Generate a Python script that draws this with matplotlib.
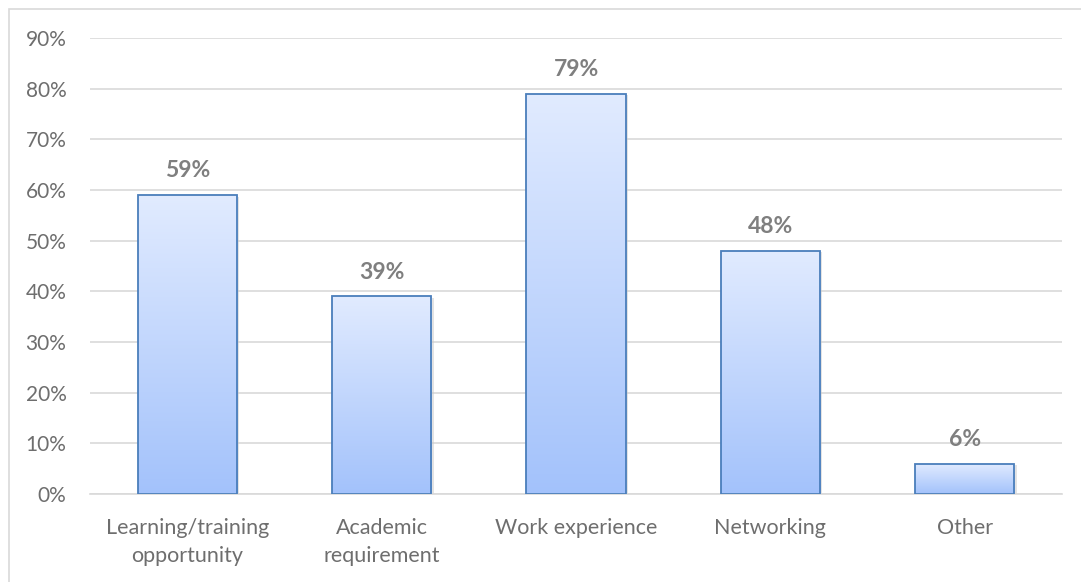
import matplotlib
matplotlib.use("Agg")
import matplotlib.pyplot as plt
import numpy as np
from matplotlib.colors import LinearSegmentedColormap
from matplotlib.ticker import FuncFormatter
from matplotlib.patches import Rectangle

categories = ["Learning/training\nopportunity", "Academic\nrequirement",
              "Work experience", "Networking", "Other"]
values = [59, 39, 79, 48, 6]
yticks = [0, 10, 20, 30, 40, 50, 60, 70, 80, 90]

plt.rcParams['font.family'] = ['Lato', 'DejaVu Sans']

fig = plt.figure(figsize=(10.81, 5.82), dpi=100)
ax = fig.add_axes([0.0833, 0.1512, 0.8991, 0.7835])

x = np.arange(len(categories))
bars = ax.bar(x, values, width=0.51, color='none', edgecolor='#4a7ebb',
              linewidth=1.3, zorder=3)

grad = LinearSegmentedColormap.from_list('g', ['#a3c2fb', '#e1ebff'])
ramp = np.linspace(0, 1, 256).reshape(-1, 1)
for b in bars:
    x0, y0 = b.get_x(), b.get_y()
    w, h = b.get_width(), b.get_height()
    # soft drop shadow
    ax.add_patch(Rectangle((x0 + 0.012, y0 - 0.3), w, h, facecolor='#c8c8c8',
                           edgecolor='none', alpha=0.5, zorder=1.5))
    im = ax.imshow(ramp, cmap=grad, aspect='auto', origin='lower',
                   extent=(x0, x0 + w, y0, y0 + h), zorder=2)
    im.set_clip_path(b)

for xi, v in zip(x, values):
    ax.annotate(f"{v}%", (xi, v), xytext=(0, 17.5), textcoords='offset points',
                ha='center', va='center', fontsize=16.5, fontweight='bold',
                color='#7f7f7f')

ax.set_xlim(-0.5, len(categories) - 0.5)
ax.set_ylim(0, 90)
ax.set_yticks(yticks)
ax.yaxis.set_major_formatter(FuncFormatter(lambda v, p: f"{v:.0f}%"))
ax.set_xticks(x)
ax.set_xticklabels(categories, linespacing=1.55)
ax.tick_params(axis='x', length=0, labelsize=15.5, labelcolor='#6e6e6e', pad=17)
ax.tick_params(axis='y', length=0, labelsize=15, labelcolor='#6e6e6e', pad=17)
ax.grid(axis='y', color='#d9d9d9', linewidth=1.2, zorder=0)
ax.set_axisbelow(True)
for s in ['top', 'right', 'left']:
    ax.spines[s].set_visible(False)
ax.spines['bottom'].set_color('#d9d9d9')
ax.spines['bottom'].set_linewidth(1.2)

# chart frame
fig.add_artist(Rectangle((9 / 1081, -0.05), 1.2, 1 - 9 / 582 + 0.05,
                         transform=fig.transFigure, facecolor='none',
                         edgecolor='#d9d9d9', linewidth=1.2))

fig.savefig("out.png", dpi=100)
